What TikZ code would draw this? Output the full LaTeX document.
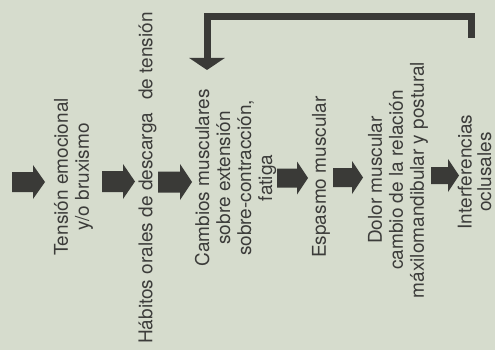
\documentclass[tikz,border=0pt]{standalone}
\usepackage{fontspec}
\setmainfont{TeX Gyre Heros}
\usetikzlibrary{arrows.meta}
\definecolor{paper}{RGB}{214,220,205}
\definecolor{ink}{RGB}{58,58,55}
\definecolor{inktext}{RGB}{60,60,58}
% block arrow pointing right: x start, x neck, x tip, y centre, shaft half width, head half width
\newcommand\fatarrow[6]{%
  \fill[ink] (#1,#4-#5) -- (#2,#4-#5) -- (#2,#4-#6) -- (#3,#4)
    -- (#2,#4+#6) -- (#2,#4+#5) -- (#1,#4+#5) -- cycle;}
\begin{document}
\begin{tikzpicture}[x=1pt,y=-1pt,
  txt/.style={rotate=90, align=center, inner sep=0pt, text=inktext,
    font=\fontsize{19}{21}\selectfont},
  loop/.style={draw=ink, line width=7pt, line join=miter,
    -{Triangle[width=35pt,length=12pt]}}]
\fill[paper] (0,0) rectangle (495,350);
\useasboundingbox (0,0) rectangle (495,350);

% stages of the cycle
\node[txt] (tension) at (73.5,177) {Tensión emocional\\y/o bruxismo};
\node[txt] (habitos) at (147.5,178) {Hábitos orales de descarga\hspace{0.7em}de tensión};
\node[txt] (cambios) at (235.5,178) {Cambios musculares\\sobre extensión\\sobre-contracción,\\fatiga};
\node[txt] (espasmo) at (321,177) {Espasmo muscular};
\node[txt] (dolor) at (398,180) {Dolor muscular\\cambio de la relación\\máxilomandibular y postural};
\node[txt, font=\fontsize{19}{19.5}\selectfont] (interf) at (474.5,172) {Interferencias\\oclusales};

% block arrows between the stages
\fatarrow{12}{33}{45}{182}{10}{17}
\fatarrow{102}{123}{135}{181.5}{10.5}{17.5}
\fatarrow{158}{180}{192}{182}{10.5}{18}
\fatarrow{277}{297}{308}{178}{9.5}{16.5}
\fatarrow{333}{352}{363}{177.5}{9.5}{16.5}
\fatarrow{431}{448}{459}{175.5}{8.5}{16.5}

% feedback from the occlusal interferences back to the muscular changes
\coordinate (fbA) at (471,38);
\coordinate (fbB) at (207,70);
\draw[loop] (fbA) -- ++(0,-21.5) -| (fbB);
\end{tikzpicture}
\end{document}
